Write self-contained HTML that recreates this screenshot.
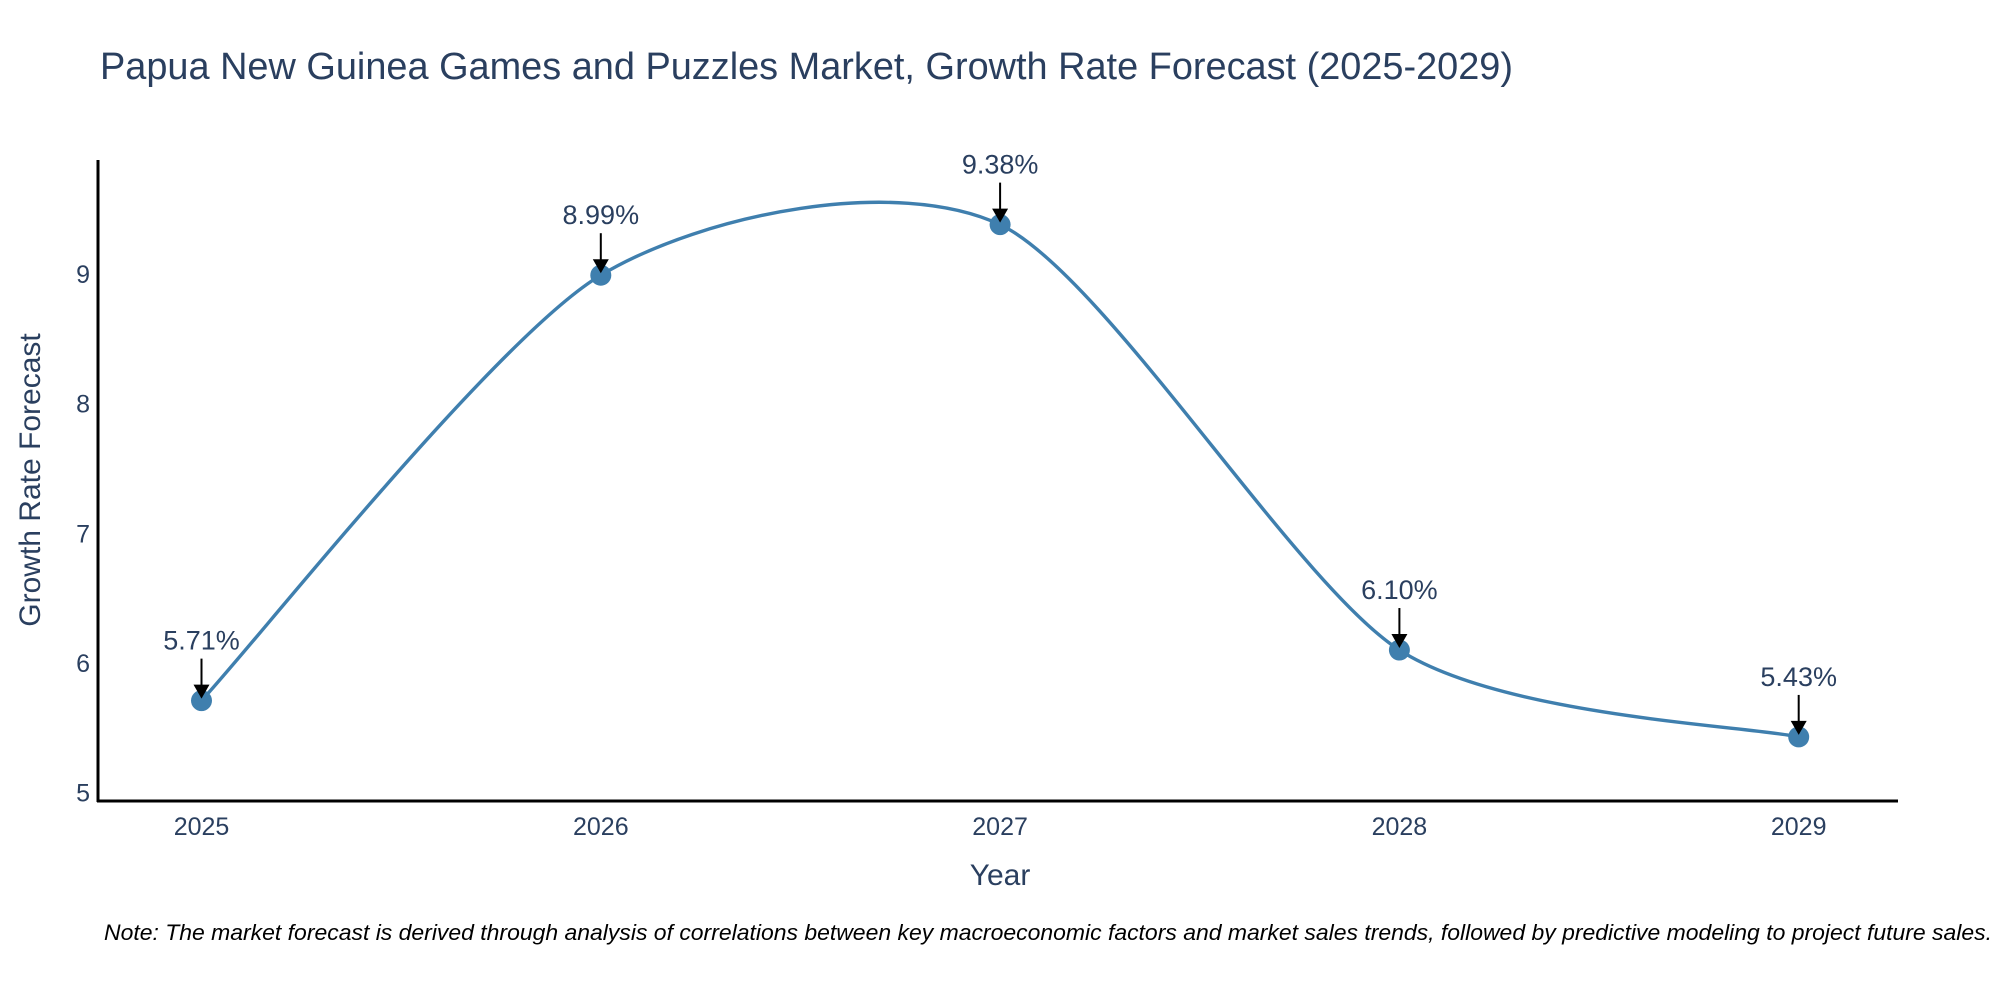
<!DOCTYPE html>
<html><head><meta charset="utf-8"><style>
html,body{margin:0;padding:0;background:#fff;width:2000px;height:1000px;overflow:hidden}
svg text{font-family:"Liberation Sans",sans-serif;fill:#2a3f5f}
</style></head><body>
<svg id="chart" width="2000" height="1000" xmlns="http://www.w3.org/2000/svg">
<text x="100" y="79" font-size="38" textLength="1413" lengthAdjust="spacingAndGlyphs">Papua New Guinea Games and Puzzles Market, Growth Rate Forecast (2025-2029)</text>
<g id="plot"></g>
<text x="1000" y="885" font-size="30" text-anchor="middle">Year</text>
<text x="40" y="480" font-size="30" text-anchor="middle" transform="rotate(-90 40 480)">Growth Rate Forecast</text>
<text x="1992" y="940" font-size="22" font-style="italic" text-anchor="end" textLength="1888" lengthAdjust="spacingAndGlyphs" style="fill:#000">Note: The market forecast is derived through analysis of correlations between key macroeconomic factors and market sales trends, followed by predictive modeling to project future sales.</text>
</svg>
<script>
const years = [2025, 2026, 2027, 2028, 2029];
const values = [5.71, 8.99, 9.38, 6.10, 5.43];
const labels = ["5.71%", "8.99%", "9.38%", "6.10%", "5.43%"];
const yTicks = [5, 6, 7, 8, 9];

const NS = "http://www.w3.org/2000/svg";
const g = document.getElementById("plot");
const x = v => 201.5 + (v - 2025) * 399.3;
const y = v => 792.7 - (v - 5) * 129.7;
function mk(tag, attrs, parent) {
  const e = document.createElementNS(NS, tag);
  for (const k in attrs) e.setAttribute(k, attrs[k]);
  (parent || g).appendChild(e);
  return e;
}
let e = mk("line", {x1: 98, y1: 160, x2: 98, y2: 802, stroke: "#000", "stroke-width": 3});


e = mk("line", {x1: 97, y1: 801, x2: 1898, y2: 801, stroke: "#000", "stroke-width": 3});


yTicks.forEach(t => {
  const tx = mk("text", {x: 90, y: y(t) + 9, "font-size": 25, "text-anchor": "end"});
  tx.textContent = t;
  
  
});
years.forEach(t => {
  const tx = mk("text", {x: x(t), y: 835, "font-size": 25, "text-anchor": "middle"});
  tx.textContent = t;
  
  
});
const pts = years.map((yr, i) => [x(yr), y(values[i])]);
let d = "M" + pts[0][0] + "," + pts[0][1];
const s = 0.13;
for (let i = 0; i < pts.length - 1; i++) {
  const p0 = pts[Math.max(0, i - 1)], p1 = pts[i], p2 = pts[i + 1], p3 = pts[Math.min(pts.length - 1, i + 2)];
  const c1 = [p1[0] + (p2[0] - p0[0]) * s, p1[1] + (p2[1] - p0[1]) * s];
  const c2 = [p2[0] - (p3[0] - p1[0]) * s, p2[1] - (p3[1] - p1[1]) * s];
  d += " C" + c1 + " " + c2 + " " + p2;
}
e = mk("path", {d: d, fill: "none", stroke: "#3f7fae", "stroke-width": 3.4});


pts.forEach((p, i) => {
  const c = mk("circle", {cx: p[0], cy: p[1], r: 10.5, fill: "#3f7fae"});
  
  
  const a = mk("line", {x1: p[0], y1: p[1] - 42, x2: p[0], y2: p[1] - 14, stroke: "#000", "stroke-width": 2});
  
  
  const h = mk("path", {d: `M${p[0]-8},${p[1]-16} L${p[0]+8},${p[1]-16} L${p[0]},${p[1]-2} Z`, fill: "#000"});
  
  
  const t = mk("text", {x: p[0], y: p[1] - 51, "font-size": 27, "text-anchor": "middle"});
  t.textContent = labels[i];
  
  
});
</script>
</body></html>
